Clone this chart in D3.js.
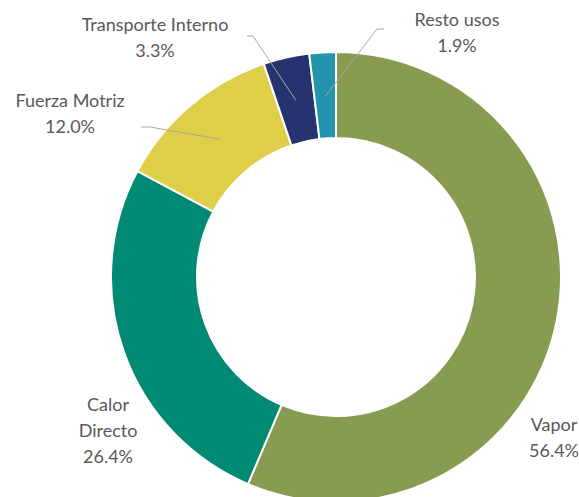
<!DOCTYPE html>
<html>
<head>
<meta charset="utf-8">
<script src="https://cdn.jsdelivr.net/npm/d3@7"></script>
<style>
  body { margin: 0; background: #fff; }
  text { font-family: Lato, "Open Sans", sans-serif; fill: #595959; font-size: 18px; }
</style>
</head>
<body>
<svg id="chart" width="579" height="497"></svg>
<script>
const categories = ["Vapor", "Calor Directo", "Fuerza Motriz", "Transporte Interno", "Resto usos"];
const shares = [56.4, 26.4, 12.0, 3.3, 1.9];
const colors = ["#879c50", "#008a74", "#dece48", "#263370", "#2394ad"];

// label lines (text split) and layout, in pixels (y = first baseline)
const labelLines = [["Vapor"], ["Calor", "Directo"], ["Fuerza Motriz"], ["Transporte Interno"], ["Resto usos"]];
const labelPos = [
  { x: 554, y: 431 },
  { x: 108, y: 411 },
  { x: 70, y: 107 },
  { x: 155, y: 31 },
  { x: 457, y: 26 },
];
// leader: elbow point and end of horizontal tick (null = no leader)
const leaders = [null, null, { ex: 150, ey: 127, tx: 141 }, { ex: 253, ey: 36, tx: 247 }, { ex: 377, ey: 29, tx: 384 }];

const width = 579;
const height = 497;
const cx = 336;
const cy = 277;
const outerR = 225;
const innerR = 139;
const lineH = 26;

const svg = d3.select("#chart");
const g = svg.append("g").attr("transform", `translate(${cx},${cy})`);

const data = categories.map((c, i) => ({ name: c, value: shares[i], i }));

const pie = d3.pie().value((d) => d.value).sort(null);
const arc = d3.arc().innerRadius(innerR).outerRadius(outerR);
const midArc = d3.arc().innerRadius(181).outerRadius(181);

const arcs = pie(data);

g.selectAll("path.slice")
  .data(arcs)
  .join("path")
  .attr("class", "slice")
  .attr("d", arc)
  .attr("fill", (d) => colors[d.data.i])
  .attr("stroke", "#fff")
  .attr("stroke-width", 2);

// leader lines
arcs.forEach((a) => {
  const l = leaders[a.data.i];
  if (!l) return;
  const [px, py] = midArc.centroid(a);
  svg
    .append("polyline")
    .attr("points", `${cx + px},${cy + py} ${l.ex},${l.ey} ${l.tx},${l.ey}`)
    .attr("fill", "none")
    .attr("stroke", "#a6a6a6")
    .attr("stroke-width", 1);
});

// labels
arcs.forEach((a) => {
  const i = a.data.i;
  const pos = labelPos[i];
  const lines = labelLines[i].concat([d3.format(".1f")(a.data.value) + "%"]);
  const t = svg.append("text").attr("text-anchor", "middle");
  lines.forEach((s, k) => {
    t.append("tspan").attr("x", pos.x).attr("y", pos.y + k * lineH).text(s);
  });
});
</script>
</body>
</html>
